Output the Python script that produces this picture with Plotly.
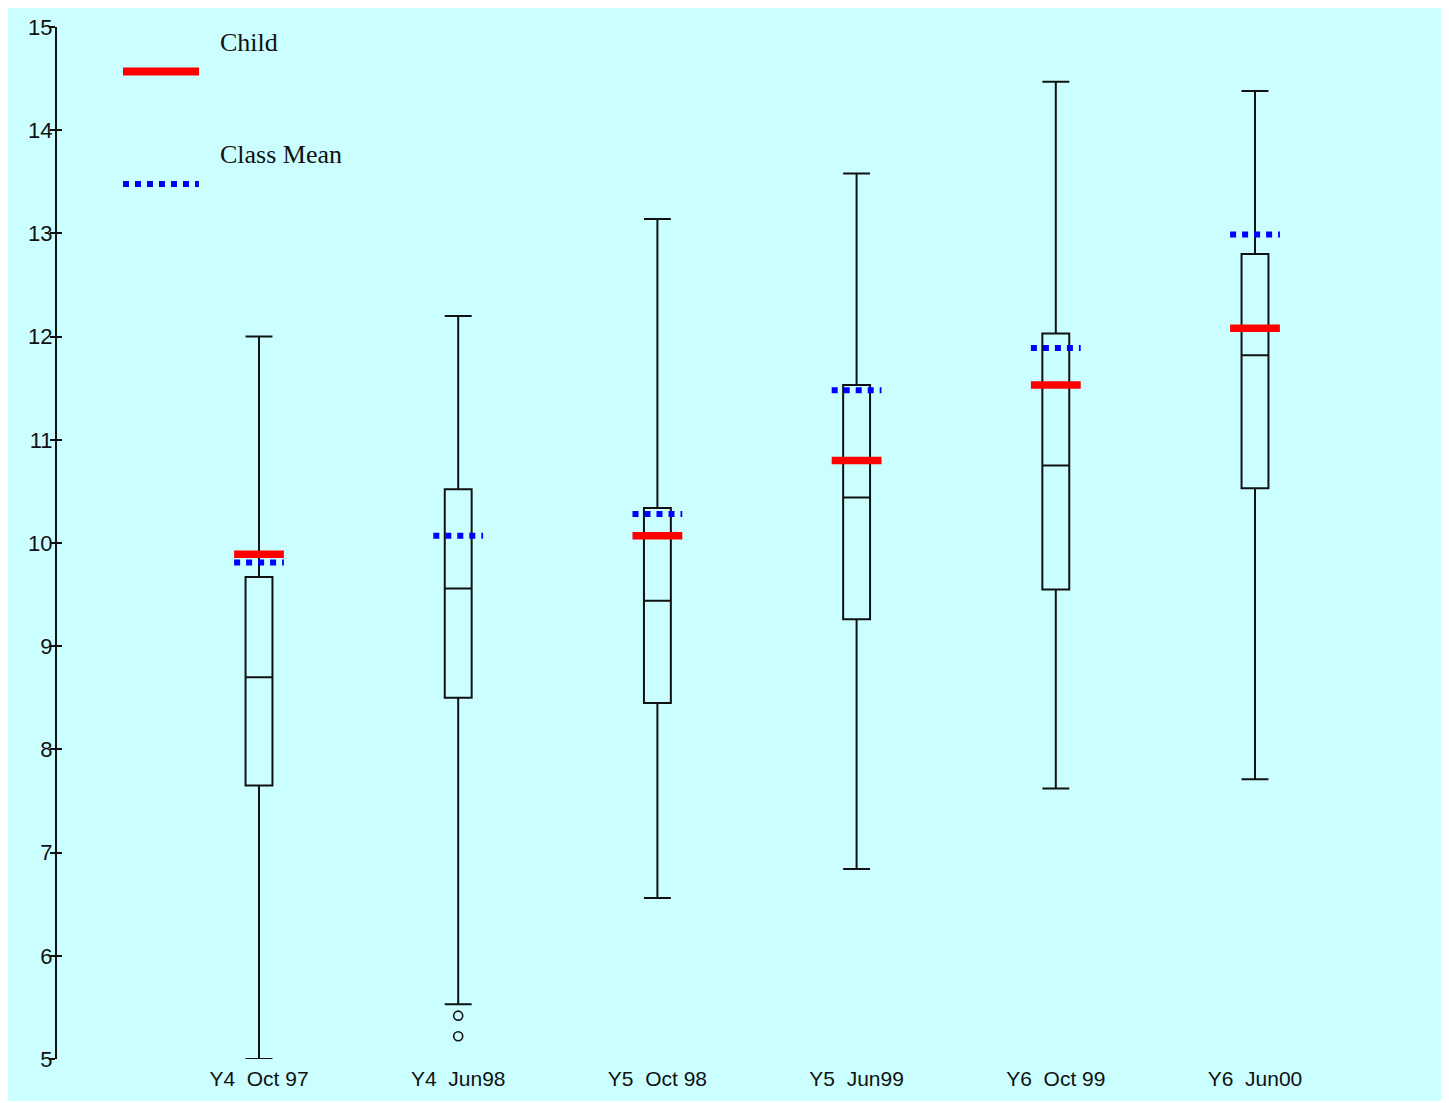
import plotly.graph_objects as go

# ---- data ----
categories = ["Y4\u00a0\u00a0Oct\u00a097", "Y4\u00a0\u00a0Jun98", "Y5\u00a0\u00a0Oct\u00a098",
              "Y5\u00a0\u00a0Jun99", "Y6\u00a0\u00a0Oct\u00a099", "Y6\u00a0\u00a0Jun00"]
upper_whisker = [12.00, 12.20, 13.14, 13.58, 14.47, 14.38]
q3_values = [9.67, 10.52, 10.34, 11.53, 12.03, 12.80]
median_values = [8.70, 9.56, 9.44, 10.44, 10.75, 11.82]
q1_values = [7.65, 8.50, 8.45, 9.26, 9.55, 10.53]
lower_whisker = [5.00, 5.53, 6.56, 6.84, 7.62, 7.71]
outlier_cat = [1, 1]
outlier_values = [5.42, 5.22]
child_values = [9.89, None, 10.07, 10.80, 11.53, 12.08]
class_mean_values = [9.81, 10.07, 10.28, 11.48, 11.89, 12.99]
y_ticks = [5, 6, 7, 8, 9, 10, 11, 12, 13, 14, 15]

positions = list(range(len(categories)))
CYAN = "#CBFFFF"
HALF = 0.125


def seg_xy(vals):
    xs, ys = [], []
    for i, v in enumerate(vals):
        if v is None:
            continue
        xs += [i - HALF, i + HALF, None]
        ys += [v, v, None]
    return xs, ys


fig = go.Figure()

fig.add_trace(go.Box(
    x=positions, q1=q1_values, median=median_values, q3=q3_values,
    lowerfence=lower_whisker, upperfence=upper_whisker,
    width=0.135, whiskerwidth=1, boxpoints=False,
    fillcolor="rgba(0,0,0,0)", line=dict(color="#111111", width=2),
    showlegend=False, hoverinfo="skip",
))

fig.add_trace(go.Scatter(
    x=outlier_cat, y=outlier_values, mode="markers",
    marker=dict(symbol="circle-open", size=9, color="#111111", line=dict(width=1.6)),
    showlegend=False, hoverinfo="skip",
))

mx, my = seg_xy(class_mean_values)
fig.add_trace(go.Scatter(
    x=mx, y=my, mode="lines", line=dict(color="#0000FF", width=6, dash="6px,6px"),
    showlegend=False, hoverinfo="skip",
))
cx, cy = seg_xy(child_values)
fig.add_trace(go.Scatter(
    x=cx, y=cy, mode="lines", line=dict(color="#FF0000", width=7.5),
    showlegend=False, hoverinfo="skip",
))

# dummy trace on overlay axis for crossing ticks
fig.add_trace(go.Scatter(x=[None], y=[None], yaxis="y2", showlegend=False, hoverinfo="skip"))

# page has an 8px body margin; figure placed at (8, 8)
OFF = 8
W, H = 1449 - OFF, 1101 - OFF
L, R, T = 57 - OFF, 15, 27 - OFF
B = H - (1059 - OFF)
pw, ph = W - L - R, H - T - B


def px(xp):
    return (xp - OFF - L) / pw


def py(yp):
    return (H - B - (yp - OFF)) / ph


shapes = [
    dict(type="line", xref="paper", yref="paper",
         x0=px(123), x1=px(199), y0=py(71.5), y1=py(71.5),
         line=dict(color="#FF0000", width=8)),
    dict(type="line", xref="paper", yref="paper",
         x0=px(123), x1=px(199), y0=py(184), y1=py(184),
         line=dict(color="#0000FF", width=6, dash="6px,6px")),
]

annotations = [
    dict(text="Child", xref="paper", yref="paper", x=px(218), y=py(42),
         xanchor="left", yanchor="middle", showarrow=False,
         font=dict(family="Liberation Serif", size=26, color="#111111")),
    dict(text="Class Mean", xref="paper", yref="paper", x=px(218), y=py(154.5),
         xanchor="left", yanchor="middle", showarrow=False,
         font=dict(family="Liberation Serif", size=26, color="#111111")),
]

x0 = -(259 - 57) / 199.2
fig.update_layout(
    width=W, height=H,
    margin=dict(l=L, r=R, t=T, b=B, pad=0, autoexpand=False),
    paper_bgcolor=CYAN, plot_bgcolor=CYAN,
    font=dict(family="Liberation Sans", color="#111111"),
    shapes=shapes, annotations=annotations,
    xaxis=dict(range=[x0, x0 + pw / 199.2], tickvals=positions, ticktext=categories,
               showgrid=False, zeroline=False, showline=False, automargin=False,
               ticks="outside", ticklen=1, tickcolor="rgba(0,0,0,0)",
               tickfont=dict(size=21, family="Liberation Sans", color="#111111")),
    yaxis=dict(range=[5, 15], tickvals=y_ticks, showgrid=False, zeroline=False,
               showline=True, linecolor="#111111", linewidth=2, automargin=False,
               ticks="outside", ticklen=5, tickwidth=2, tickcolor="#111111",
               ticklabelstandoff=-7,
               tickfont=dict(size=22, family="Liberation Sans", color="#111111")),
    yaxis2=dict(range=[5, 15], tickvals=y_ticks, overlaying="y", side="left", anchor="x",
                showgrid=False, zeroline=False, showline=False, showticklabels=False,
                automargin=False,
                ticks="inside", ticklen=5, tickwidth=2, tickcolor="#111111"),
)

fig.write_html("out.html")
